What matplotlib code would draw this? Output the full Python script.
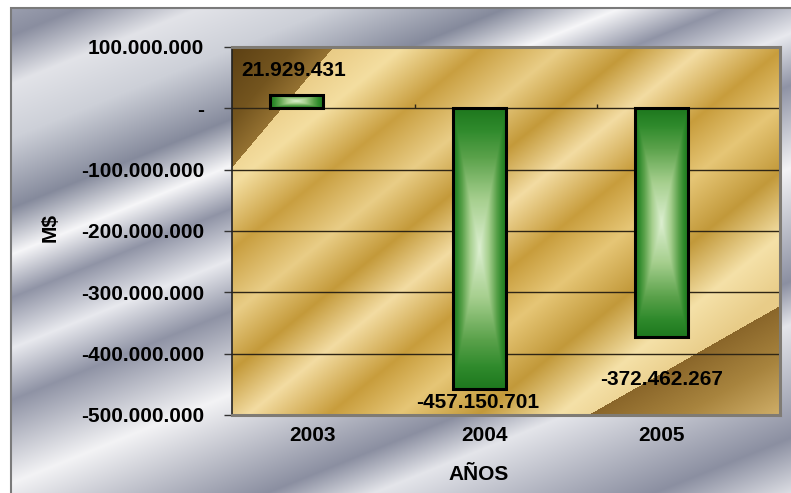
import numpy as np
import matplotlib
matplotlib.use('Agg')
import matplotlib.pyplot as plt
from matplotlib.colors import to_rgb, LinearSegmentedColormap
from matplotlib.patches import Rectangle
from matplotlib.ticker import FuncFormatter

plt.rcParams['font.family'] = ['Liberation Sans', 'DejaVu Sans']
plt.rcParams['font.weight'] = 'bold'

# data
years = ['2003', '2004', '2005']
values = [21929431, -457150701, -372462267]
y_ticks = [100e6, 0, -100e6, -200e6, -300e6, -400e6, -500e6]


def fmt_es(v):
    # 1.234.567 style, zero shown as a dash
    if v == 0:
        return '-'
    s = f'{abs(int(round(v))):,}'.replace(',', '.')
    return '-' + s if v < 0 else s


def ramp(t, stops):
    # piecewise-linear colour ramp, stops = [(pos, colour), ...]
    pos = [p for p, _ in stops]
    rgb = np.array([to_rgb(c) for _, c in stops])
    out = np.stack([np.interp(t, pos, rgb[:, k]) for k in range(3)], axis=-1)
    return out


W, H = 791, 493
fig = plt.figure(figsize=(W / 100, H / 100), dpi=100)
fig.patch.set_facecolor('white')

# silver chart background
bg = fig.add_axes([11 / W, 0, 1 - 11 / W, 485 / H])
bg.set_axis_off()
X, Y = np.meshgrid(np.arange(780), np.arange(485))
th = np.radians(22)
t_bg = X * np.sin(th) + Y * np.cos(th)
silver = [(0, '#9a9eae'), (25, '#8a8ea0'), (70, '#e2e3e8'), (120, '#cdd0d8'),
          (185, '#858a9c'), (228, '#f6f6f8'), (268, '#9094a6'), (315, '#e8e9ee'),
          (363, '#8f93a5'), (440, '#f3f3f5'), (545, '#8b8fa1'), (585, '#e4e5ea'),
          (690, '#8b8fa1'), (745, '#e2e3e8')]
bg.imshow(ramp(t_bg, silver), aspect='auto', interpolation='bilinear')
fig.patches.append(Rectangle((11 / W, -0.01), 1, 485 / H + 0.01, transform=fig.transFigure,
                             fill=False, edgecolor='#7a7a7a', lw=1.5))

ax = fig.add_axes([232 / W, 78 / H, 548 / W, 368 / H])

# gold plot area: diagonal bands plus darker corners
u, v = np.meshgrid(np.linspace(0, 1, 548), np.linspace(0, 1, 368))
t_gold = (1.2 * u + v) / 2.2
gold = [(0.0, '#d8b466'), (0.12, '#ecd08c'), (0.17, '#f4dea0'), (0.25, '#c99f40'),
        (0.33, '#e9cd86'), (0.40, '#c49a3a'), (0.47, '#f3dca2'), (0.55, '#c89d3c'),
        (0.62, '#e6c676'), (0.70, '#c2993a'), (0.78, '#f5e1a8'), (0.85, '#e8cc88'),
        (1.0, '#e8cc88')]
img = ramp(t_gold, gold)
t_tl = 1.77 * u + v
tl = t_tl < 0.326
img[tl] = ramp(t_tl[tl], [(0, '#5c4014'), (0.2, '#74551f'), (0.326, '#957232')])
t_br = 0.85 * u + v
br = t_br > 1.555
img[br] = ramp(t_br[br], [(1.555, '#8a662a'), (1.7, '#a8843e'), (1.85, '#cfae68')])
ax.imshow(img, extent=[0, 3, -500e6, 100e6], aspect='auto',
          interpolation='bilinear', zorder=0)

# gridlines
for yv in y_ticks[1:-1]:
    ax.axhline(yv, color='#2e2515', lw=1.0, zorder=1)

# bars with centre-out green gradient
offset, width = 0.353, 0.29
xs = np.arange(len(years)) + offset
bars = ax.bar(xs, values, width=width, facecolor='none', edgecolor='black',
              lw=2.2, zorder=3)
green = LinearSegmentedColormap.from_list(
    'bar', [(0, '#dcefd0'), (0.35, '#a6cf8e'), (0.65, '#5ba24b'),
            (0.85, '#2f8a2c'), (1, '#1e781e')])
gu, gv = np.meshgrid(np.linspace(-1, 1, 120), np.linspace(-1, 1, 240))
d = np.maximum(np.abs(gu), np.abs(gv))
for b in bars:
    x0, w = b.get_x(), b.get_width()
    y0, h = b.get_y(), b.get_height()
    im = ax.imshow(d, cmap=green, vmin=0, vmax=1, aspect='auto',
                   extent=[x0, x0 + w, min(y0, y0 + h), max(y0, y0 + h)],
                   interpolation='bilinear', zorder=2)
    im.set_clip_path(b)

# value labels
label_off = [(-1.8, 17.5), (-1.4, -9.6), (0, -31)]
for x, val, off in zip(xs, values, label_off):
    ax.annotate(fmt_es(val), (x, val), xytext=off, textcoords='offset points',
                ha='center', va='center', fontsize=15, fontweight='bold', zorder=4)

ax.set_xlim(0, 3)
ax.set_ylim(-500e6, 100e6)
ax.set_yticks(y_ticks)
ax.yaxis.set_major_formatter(FuncFormatter(lambda v, p: fmt_es(v)))
ax.tick_params(axis='y', length=6, width=1, color='#333333', pad=14, labelsize=15)

# category labels sit under the plot, boundary ticks on the zero line
ax.set_xticks([0.443, 1.385, 2.354])
ax.set_xticklabels(years)
ax.tick_params(axis='x', length=0, pad=8, labelsize=15)
ax.vlines([1, 2, 3], 0, 6.5e6, color='#2e2515', lw=1.0, zorder=1)

for side in ['top', 'right', 'bottom']:
    ax.spines[side].set_color('#7f7b74')
    ax.spines[side].set_linewidth(2.2)
ax.spines['left'].set_color('#222222')
ax.spines['left'].set_linewidth(1.2)

fig.text(50 / W, 1 - 228 / H, 'M$', rotation=90, ha='center', va='center',
         fontsize=15, fontweight='bold')
fig.text(479 / W, 1 - 474 / H, 'AÑOS', ha='center', va='center',
         fontsize=15, fontweight='bold')

fig.savefig('out.png', dpi=100, facecolor=fig.get_facecolor())
